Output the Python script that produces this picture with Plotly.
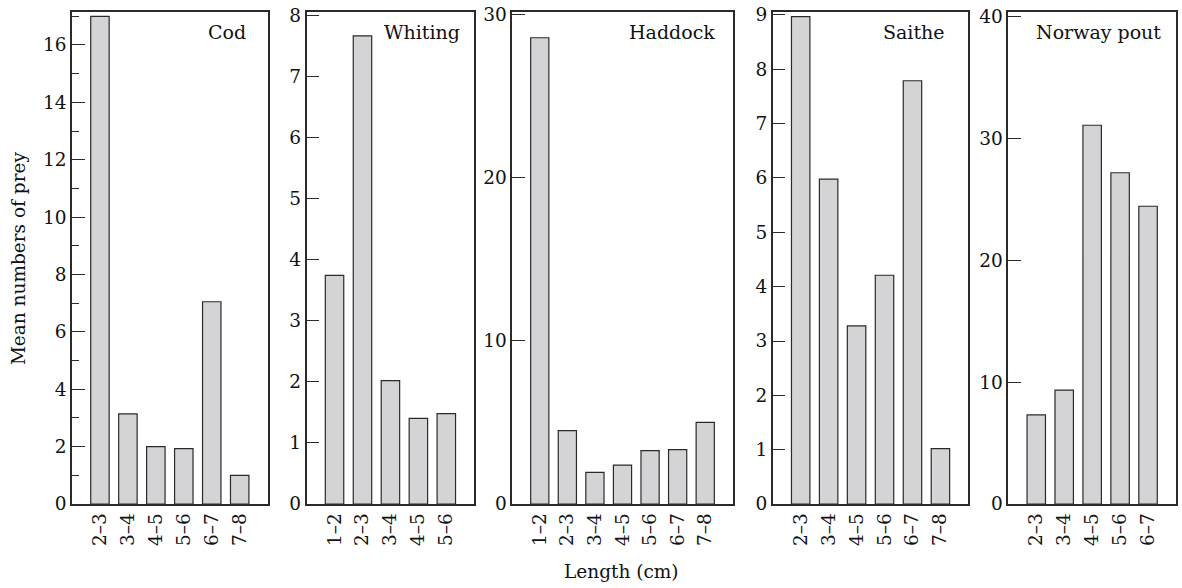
import plotly.graph_objects as go

# ---- data ----
species = ["Cod", "Whiting", "Haddock", "Saithe", "Norway pout"]
cod_len = ["2–3", "3–4", "4–5", "5–6", "6–7", "7–8"]
cod_val = [17.0, 3.14, 2.0, 1.93, 7.05, 1.0]
whiting_len = ["1–2", "2–3", "3–4", "4–5", "5–6"]
whiting_val = [3.74, 7.66, 2.02, 1.40, 1.48]
haddock_len = ["1–2", "2–3", "3–4", "4–5", "5–6", "6–7", "7–8"]
haddock_val = [28.6, 4.5, 1.94, 2.39, 3.27, 3.33, 5.01]
saithe_len = ["2–3", "3–4", "4–5", "5–6", "6–7", "7–8"]
saithe_val = [8.97, 5.98, 3.28, 4.21, 7.79, 1.02]
pout_len = ["2–3", "3–4", "4–5", "5–6", "6–7"]
pout_val = [7.32, 9.35, 31.1, 27.2, 24.45]

y_ticks = [
    [0, 2, 4, 6, 8, 10, 12, 14, 16],
    [0, 1, 2, 3, 4, 5, 6, 7, 8],
    [0, 10, 20, 30],
    [0, 1, 2, 3, 4, 5, 6, 7, 8, 9],
    [0, 10, 20, 30, 40],
]
y_top = [17.15, 8.05, 30.18, 9.055, 40.4]

panels = [
    (cod_len, cod_val),
    (whiting_len, whiting_val),
    (haddock_len, haddock_val),
    (saithe_len, saithe_val),
    (pout_len, pout_val),
]

domains = [(0.0, 0.17722), (0.21248, 0.36438), (0.39873, 0.59855),
           (0.63472, 0.81193), (0.84810, 1.0)]
label_x = [0.1591, 0.3535, 0.5841, 0.7929, 0.9882]

FONT = "DejaVu Serif"
TXT = "#111111"
LINE = "#2a2a2a"

fig = go.Figure()
layout = dict(
    width=1182, height=588,
    margin=dict(l=72, r=4, t=12, b=84),
    paper_bgcolor="white", plot_bgcolor="white",
    showlegend=False,
    font=dict(family=FONT, size=18, color=TXT),
)

annotations = []
for i, ((cats, vals), dom) in enumerate(zip(panels, domains)):
    n = i + 1
    xa = "x" if n == 1 else f"x{n}"
    ya = "y" if n == 1 else f"y{n}"
    fig.add_trace(go.Bar(
        x=list(range(len(cats))), y=vals, xaxis=xa, yaxis=ya,
        width=0.66,
        marker=dict(color="#d4d4d6", line=dict(color=LINE, width=1.2)),
    ))
    xkey = "xaxis" if n == 1 else f"xaxis{n}"
    ykey = "yaxis" if n == 1 else f"yaxis{n}"
    layout[xkey] = dict(
        domain=list(dom), anchor=ya, range=[-1, len(cats)],
        tickmode="array", tickvals=list(range(len(cats))), ticktext=cats,
        tickangle=-90, ticks="", showgrid=False, zeroline=False,
        showline=True, linecolor=LINE, linewidth=1.5, mirror=True,
        tickfont=dict(family=FONT, size=18.5, color=TXT),
        fixedrange=True,
    )
    yax = dict(
        anchor=xa, range=[0, y_top[i]], domain=[0, 1],
        tickmode="array", tickvals=y_ticks[i],
        ticks="inside", ticklen=13, tickwidth=1.3, tickcolor=LINE,
        showgrid=False, zeroline=False,
        showline=True, linecolor=LINE, linewidth=1.5, mirror=True,
        tickfont=dict(family=FONT, size=18.5, color=TXT),
        fixedrange=True,
    )
    if i == 0:
        yax["minor"] = dict(tickmode="array",
                            tickvals=[1, 3, 5, 7, 9, 11, 13, 15, 17],
                            ticks="inside", ticklen=7, tickwidth=1.3,
                            tickcolor=LINE, showgrid=False)
    layout[ykey] = yax
    annotations.append(dict(
        text=species[i], xref="paper", yref="paper",
        x=label_x[i], y=0.959, xanchor="right", yanchor="middle",
        showarrow=False, font=dict(family=FONT, size=19, color=TXT),
    ))

annotations.append(dict(
    text="Mean numbers of prey", xref="paper", yref="paper",
    x=-0.0488, y=0.5, xanchor="center", yanchor="middle", textangle=-90,
    showarrow=False, font=dict(family=FONT, size=18.5, color=TXT),
))
annotations.append(dict(
    text="Length (cm)", xref="paper", yref="paper",
    x=0.4973, y=-0.138, xanchor="center", yanchor="middle",
    showarrow=False, font=dict(family=FONT, size=18.5, color=TXT),
))
layout["annotations"] = annotations

fig.update_layout(**layout)
fig.write_html("out.html")
